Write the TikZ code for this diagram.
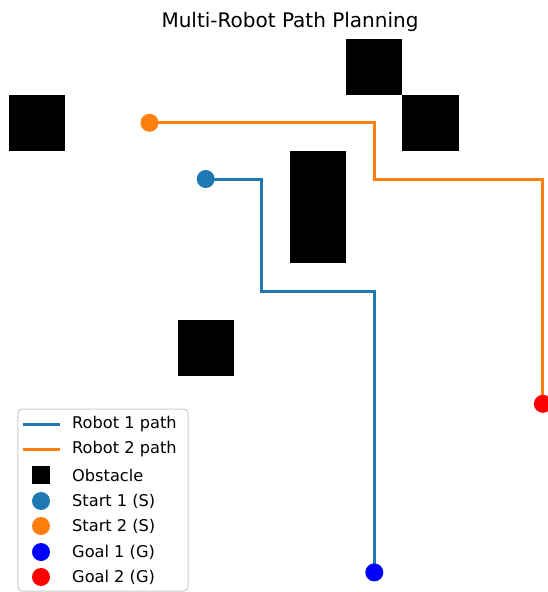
\documentclass[tikz,border=0pt]{standalone}
\usepackage{fontspec}
\setmainfont{DejaVu Sans}
\definecolor{tabblue}{HTML}{1F77B4}
\definecolor{taborange}{HTML}{FF7F0E}
\tikzset{
  obstacle/.style={fill=black},
  robotone/.style={tabblue, line width=3pt},
  robottwo/.style={taborange, line width=3pt},
  dot/.style={circle, fill=#1, inner sep=0pt, minimum size=18pt},
  legendframe/.style={draw=black!20, fill=white, fill opacity=0.8, line width=1pt, rounded corners=4pt},
  legendtext/.style={anchor=west, inner sep=0pt, font=\fontsize{16.2}{19}\selectfont}
}
\begin{document}
\begin{tikzpicture}[x=56.2pt, y=-56.2pt]
  \useasboundingbox (-9/56.2,-38.5/56.2) rectangle (538/56.2,553.5/56.2);
  % Title
  \node (title) at (5,-0.3) {\fontsize{20}{24}\selectfont Multi-Robot Path Planning};
  % Obstacle cells
  \foreach \c/\r in {0/1, 6/0, 7/1, 5/2, 5/3, 3/5}
    \fill[obstacle] (\c,\r) rectangle ++(1,1);
  % Starts and goals
  \coordinate (s1) at (3.5,2.5);
  \coordinate (s2) at (2.5,1.5);
  \coordinate (g1) at (6.5,9.5);
  \coordinate (g2) at (9.5,6.5);
  % Paths
  \draw[robotone] (s1) -- (4.5,2.5) -- (4.5,4.5) -- (6.5,4.5) -- (g1);
  \draw[robottwo] (s2) -- (6.5,1.5) -- (6.5,2.5) -- (9.5,2.5) -- (g2);
  \node (start1) [dot=tabblue] at (s1) {};
  \node (start2) [dot=taborange] at (s2) {};
  \node (goal1) [dot=blue] at (g1) {};
  \node (goal2) [dot=red] at (g2) {};
  % Legend
  \begin{scope}[shift={(-9pt,38.5pt)}, x=1pt, y=-1pt]
    \draw[legendframe] (18,409) rectangle (188,591);
    \draw[robotone] (23,424) -- (60,424);
    \draw[robottwo] (23,449) -- (60,449);
    \fill[obstacle] (32,466) rectangle (50,484);
    \node (lstart1) [dot=tabblue] at (41,501) {};
    \node (lstart2) [dot=taborange] at (41,526) {};
    \node (lgoal1) [dot=blue] at (41,552) {};
    \node (lgoal2) [dot=red] at (41,577) {};
    \node (t1) [legendtext] at (72,424) {Robot 1 path};
    \node (t2) [legendtext] at (72,449) {Robot 2 path};
    \node (t3) [legendtext] at (72,475) {Obstacle};
    \node (t4) [legendtext] at (72,501) {Start 1 (S)};
    \node (t5) [legendtext] at (72,526) {Start 2 (S)};
    \node (t6) [legendtext] at (72,552) {Goal 1 (G)};
    \node (t7) [legendtext] at (72,577) {Goal 2 (G)};
  \end{scope}
\end{tikzpicture}
\end{document}
